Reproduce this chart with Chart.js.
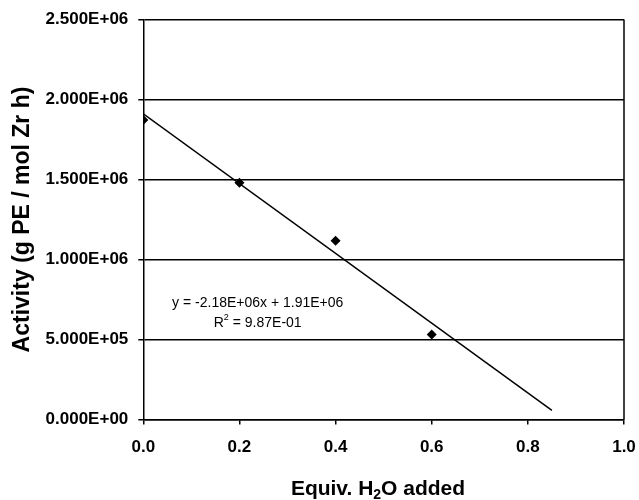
<!DOCTYPE html>
<html>
<head>
<meta charset="utf-8">
<script src="https://cdn.jsdelivr.net/npm/chart.js@4/dist/chart.umd.min.js"></script>
<style>
  html, body { margin: 0; padding: 0; background: #fff; }
  #wrap { width: 639px; height: 500px; position: relative; }
</style>
</head>
<body>
<div id="wrap"><canvas id="c" width="639" height="500"></canvas></div>
<script>
// Data
const waterEquiv = [0.0, 0.2, 0.4, 0.6];
const activity = [1.872e6, 1.48e6, 1.117e6, 0.532e6];
// Linear trend line endpoints (y = -2.18E+06x + 1.91E+06), as drawn from x=0 to x=0.85
const trendX = [0.0, 0.85];
const trendY = [1.91e6, 0.057e6];
const yTicks = [0, 500000, 1000000, 1500000, 2000000, 2500000];
const xTicks = [0, 0.2, 0.4, 0.6, 0.8, 1.0];
const equationText = "y = -2.18E+06x + 1.91E+06";
const r2Text = " = 9.87E-01";
const equationPos = [0.238, 0.728e6];

const FONT = "'Liberation Sans', Arial, sans-serif";

const extras = {
  id: 'extras',
  afterDraw(chart) {
    const ctx = chart.ctx;
    const a = chart.chartArea;
    const xs = chart.scales.x, ys = chart.scales.y;
    ctx.save();
    // right border
    ctx.strokeStyle = '#000';
    ctx.lineWidth = 1.5;
    ctx.beginPath();
    ctx.moveTo(a.right, a.top);
    ctx.lineTo(a.right, a.bottom);
    ctx.stroke();

    // equation
    ctx.fillStyle = '#000';
    ctx.font = '14px ' + FONT;
    ctx.textBaseline = 'middle';
    ctx.textAlign = 'center';
    const ex = xs.getPixelForValue(equationPos[0]);
    const ey = ys.getPixelForValue(equationPos[1]);
    ctx.fillText(equationText, ex, ey);
    // R^2 line
    const y2 = ey + 20;
    ctx.font = '14px ' + FONT;
    const wR = ctx.measureText('R').width;
    const wRest = ctx.measureText(r2Text).width;
    ctx.font = '9px ' + FONT;
    const wSup = ctx.measureText('2').width;
    let sx = ex - (wR + wSup + wRest) / 2;
    ctx.textAlign = 'left';
    ctx.font = '14px ' + FONT;
    ctx.fillText('R', sx, y2);
    ctx.font = '9px ' + FONT;
    ctx.fillText('2', sx + wR, y2 - 6);
    ctx.font = '14px ' + FONT;
    ctx.fillText(r2Text, sx + wR + wSup, y2);

    // x title with subscript
    const big = 'bold 21px ' + FONT, small = 'bold 14px ' + FONT;
    const p1 = 'Equiv. H', p2 = '2', p3 = 'O added';
    ctx.font = big; const w1 = ctx.measureText(p1).width; const w3 = ctx.measureText(p3).width;
    ctx.font = small; const w2 = ctx.measureText(p2).width;
    const total = w1 + w2 + w3;
    const cx = 378;
    const base = 495;
    let tx = cx - total / 2;
    ctx.textBaseline = 'alphabetic';
    ctx.font = big; ctx.fillText(p1, tx, base);
    ctx.font = small; ctx.fillText(p2, tx + w1, base + 4);
    ctx.font = big; ctx.fillText(p3, tx + w1 + w2, base);
    ctx.restore();
  }
};

new Chart(document.getElementById('c'), {
  type: 'scatter',
  data: {
    datasets: [
      {
        label: 'Activity',
        data: waterEquiv.map((x, i) => ({ x: x, y: activity[i] })),
        pointStyle: 'rectRot',
        pointRadius: 5,
        backgroundColor: '#000',
        borderColor: '#000',
        borderWidth: 0,
        showLine: false,
        order: 1
      },
      {
        label: 'Linear fit',
        data: trendX.map((x, i) => ({ x: x, y: trendY[i] })),
        showLine: true,
        pointRadius: 0,
        borderColor: '#000',
        borderWidth: 1.5,
        fill: false,
        order: 2
      }
    ]
  },
  options: {
    responsive: false,
    animation: false,
    layout: { padding: { top: 19.5, right: 15, left: 0, bottom: 0 } },
    plugins: { legend: { display: false }, tooltip: { enabled: false } },
    scales: {
      x: {
        type: 'linear',
        min: 0, max: 1.0,
        afterBuildTicks(scale) { scale.ticks = xTicks.map(v => ({ value: v })); },
        afterFit(scale) {
          scale.height = 80.5;
          scale.paddingLeft = 0; scale.paddingRight = 0;
        },
        grid: { drawOnChartArea: false, drawTicks: true, tickLength: 5, color: '#000', tickColor: '#000', lineWidth: 1.5 },
        border: { display: true, color: '#000', width: 1.5 },
        ticks: {
          color: '#000',
          font: { family: FONT, size: 17, weight: 'bold' },
          padding: 13,
          maxRotation: 0,
          callback: v => v.toFixed(1)
        }
      },
      y: {
        type: 'linear',
        min: 0, max: 2500000,
        afterBuildTicks(scale) { scale.ticks = yTicks.map(v => ({ value: v })); },
        afterFit(scale) {
          scale.width = 143.3;
          scale.paddingTop = 0; scale.paddingBottom = 0;
        },
        grid: { drawOnChartArea: true, drawTicks: true, tickLength: 5, color: '#000', tickColor: '#000', lineWidth: 1.5 },
        border: { display: true, color: '#000', width: 1.5 },
        ticks: {
          color: '#000',
          font: { family: FONT, size: 17, weight: 'bold' },
          padding: 10,
          callback: v => {
            if (v === 0) return '0.000E+00';
            const e = Math.floor(Math.log10(v));
            const m = v / Math.pow(10, e);
            return m.toFixed(3) + 'E+' + String(e).padStart(2, '0');
          }
        },
        title: {
          display: true,
          text: 'Activity (g PE / mol Zr h)',
          color: '#000',
          font: { family: FONT, size: 23, weight: 'bold' },
          padding: { top: 9, bottom: 0 }
        }
      }
    }
  },
  plugins: [extras]
});
</script>
</body>
</html>
